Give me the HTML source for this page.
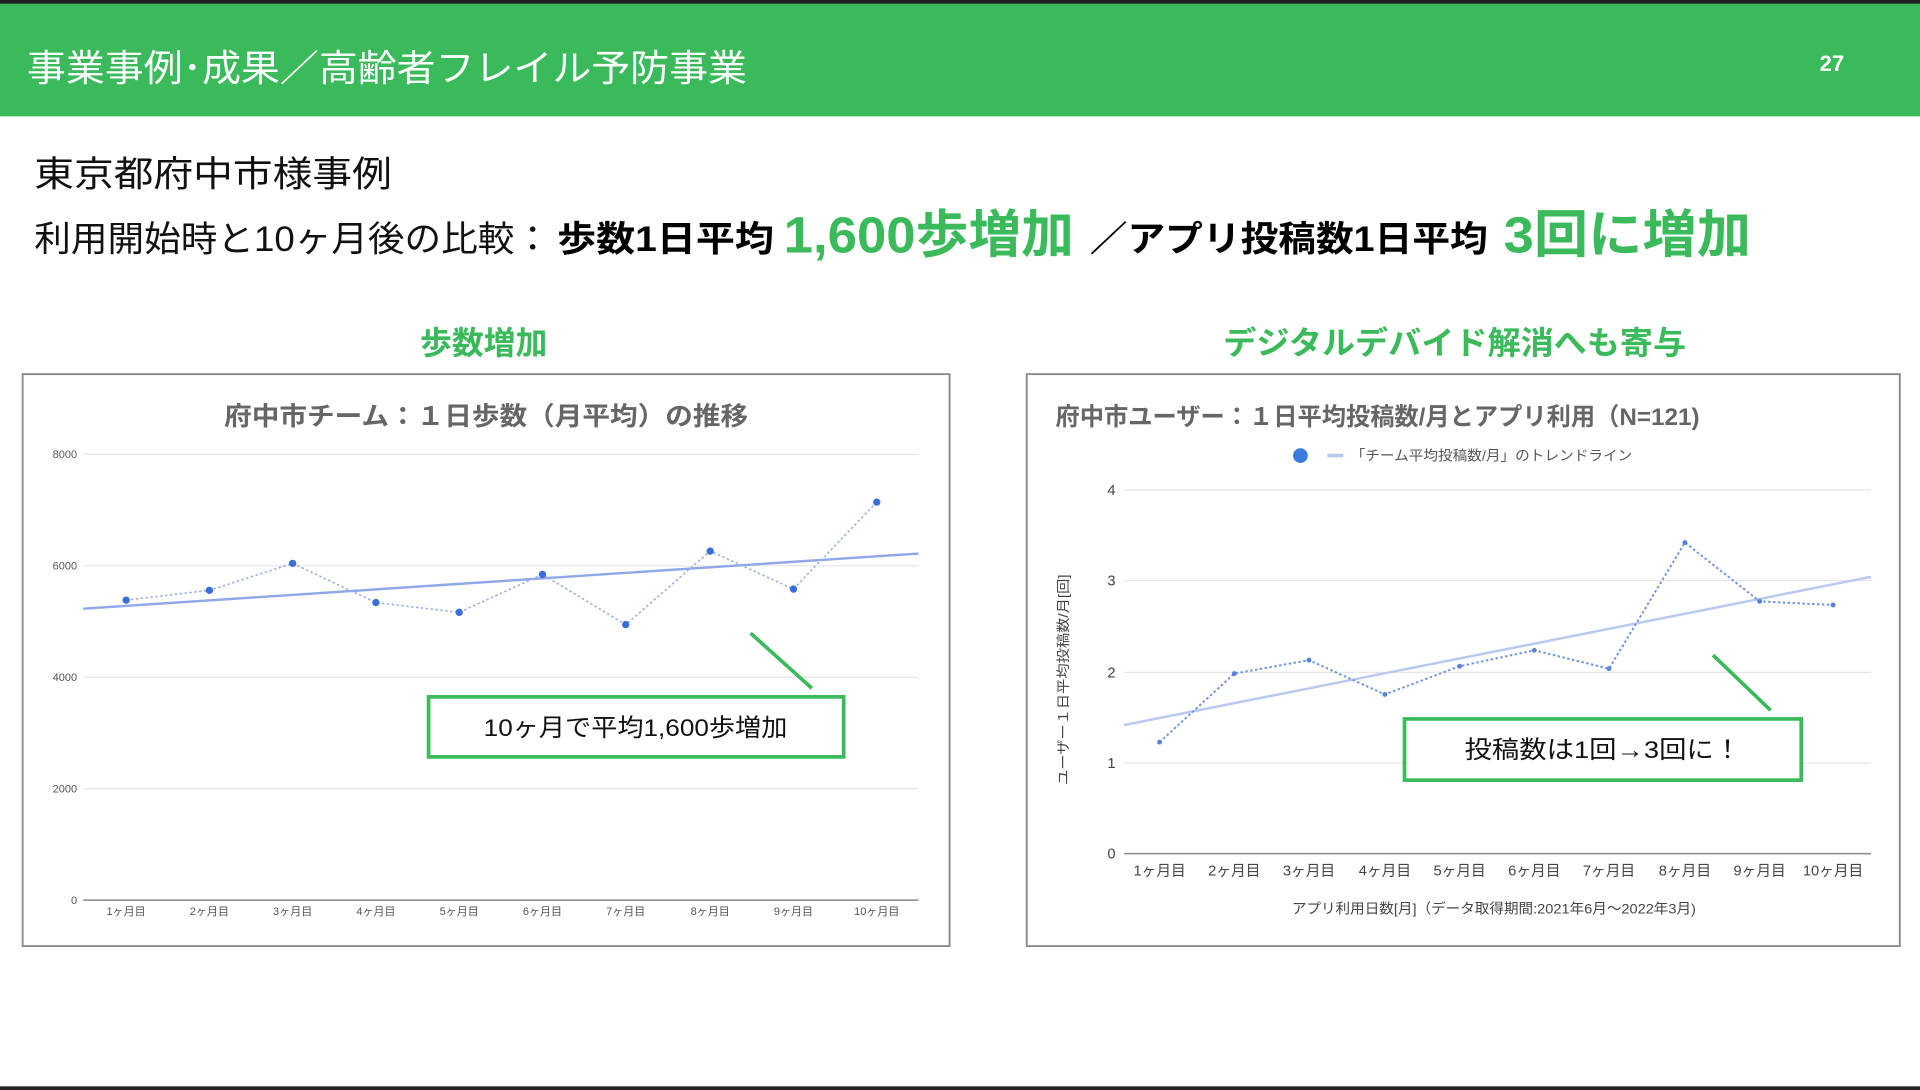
<!DOCTYPE html>
<html><head><meta charset="utf-8"><style>
html,body{margin:0;padding:0;background:#fff;}
svg{display:block;}
text{font-family:"Liberation Sans","Noto Sans CJK JP",sans-serif;}
</style></head><body>
<svg width="1920" height="1090" viewBox="0 0 1568 890" preserveAspectRatio="none" xmlns="http://www.w3.org/2000/svg">
<rect x="0" y="0" width="1568" height="890" fill="#fff"/>
<rect x="0" y="0" width="1568" height="95" fill="#3aba5a"/>
<rect x="0" y="0" width="1568" height="3" fill="#222"/>
<rect x="0" y="887" width="1568" height="3" fill="#222"/>
<text x="22" y="66" font-size="30" fill="#fff" textLength="588" lengthAdjust="spacingAndGlyphs">事業事例･成果／高齢者フレイル予防事業</text>
<text x="1486" y="58" font-size="18" font-weight="bold" fill="#fff">27</text>

<text x="28" y="152" font-size="29" fill="#111" textLength="292" lengthAdjust="spacingAndGlyphs">東京都府中市様事例</text>
<text x="28" y="205" font-size="29" fill="#111" textLength="422" lengthAdjust="spacingAndGlyphs">利用開始時と10ヶ月後の比較：</text>
<text x="455" y="205" font-size="29" font-weight="bold" fill="#000" textLength="177" lengthAdjust="spacingAndGlyphs">歩数1日平均</text>
<text x="640" y="206" font-size="42" font-weight="bold" fill="#3aba5a" textLength="237" lengthAdjust="spacingAndGlyphs">1,600歩増加</text>
<text x="890" y="205" font-size="29" font-weight="bold" fill="#000" textLength="325" lengthAdjust="spacingAndGlyphs">／アプリ投稿数1日平均</text>
<text x="1228" y="206" font-size="42" font-weight="bold" fill="#3aba5a" textLength="202" lengthAdjust="spacingAndGlyphs">3回に増加</text>

<text x="395" y="289" font-size="26" font-weight="bold" fill="#3aba5a" text-anchor="middle">歩数増加</text>
<text x="1188" y="289" font-size="26" font-weight="bold" fill="#3aba5a" text-anchor="middle" textLength="378" lengthAdjust="spacingAndGlyphs">デジタルデバイド解消へも寄与</text>

<!-- Left chart -->
<rect x="18.5" y="305.5" width="757" height="467" fill="#fff" stroke="#888" stroke-width="1.5"/>
<text x="397" y="347" font-size="21" font-weight="bold" fill="#666" text-anchor="middle" textLength="428" lengthAdjust="spacingAndGlyphs">府中市チーム：１日歩数（月平均）の推移</text>
<g stroke="#e6e6e6" stroke-width="1">
<line x1="68" y1="371" x2="750" y2="371"/><line x1="68" y1="462" x2="750" y2="462"/>
<line x1="68" y1="553" x2="750" y2="553"/><line x1="68" y1="644" x2="750" y2="644"/>
</g>
<line x1="68" y1="735" x2="750" y2="735" stroke="#888" stroke-width="1.2"/>
<g font-size="9" fill="#555" text-anchor="end">
<text x="63" y="374">8000</text><text x="63" y="465">6000</text><text x="63" y="556">4000</text><text x="63" y="647">2000</text><text x="63" y="738">0</text>
</g>
<g font-size="9" fill="#555" text-anchor="middle">
<text x="103" y="747">1ヶ月目</text><text x="171" y="747">2ヶ月目</text><text x="239" y="747">3ヶ月目</text><text x="307" y="747">4ヶ月目</text><text x="375" y="747">5ヶ月目</text><text x="443" y="747">6ヶ月目</text><text x="511" y="747">7ヶ月目</text><text x="580" y="747">8ヶ月目</text><text x="648" y="747">9ヶ月目</text><text x="716" y="747">10ヶ月目</text>
</g>
<line x1="68" y1="497" x2="750" y2="452" stroke="#8fa9e8" stroke-width="2"/>
<polyline points="103,490 171,482 239,460 307,492 375,500 443,469 511,510 580,450 648,481 716,410" fill="none" stroke="#9bb0e0" stroke-width="1.3" stroke-dasharray="2,2"/>
<g fill="#3a6fd8">
<circle cx="103" cy="490" r="3"/><circle cx="171" cy="482" r="3"/><circle cx="239" cy="460" r="3"/><circle cx="307" cy="492" r="3"/><circle cx="375" cy="500" r="3"/><circle cx="443" cy="469" r="3"/><circle cx="511" cy="510" r="3"/><circle cx="580" cy="450" r="3"/><circle cx="648" cy="481" r="3"/><circle cx="716" cy="410" r="3"/>
</g>
<line x1="613" y1="517" x2="663" y2="562" stroke="#3aba5a" stroke-width="3"/>
<rect x="350" y="569" width="339" height="49" fill="#fff" stroke="#3aba5a" stroke-width="3"/>
<text x="519" y="601" font-size="20" fill="#111" text-anchor="middle" textLength="248" lengthAdjust="spacingAndGlyphs">10ヶ月で平均1,600歩増加</text>

<!-- Right chart -->
<rect x="838.5" y="305.5" width="713" height="467" fill="#fff" stroke="#888" stroke-width="1.5"/>
<text x="862" y="347" font-size="20" font-weight="bold" fill="#666" textLength="526" lengthAdjust="spacingAndGlyphs">府中市ユーザー：１日平均投稿数/月とアプリ利用（N=121)</text>
<circle cx="1062" cy="372" r="6" fill="#3a7be0"/>
<line x1="1084" y1="372" x2="1097" y2="372" stroke="#b8c8ee" stroke-width="3"/>
<text x="1103" y="376" font-size="11.5" fill="#555" textLength="230" lengthAdjust="spacingAndGlyphs">「チーム平均投稿数/月」のトレンドライン</text>
<g stroke="#e6e6e6" stroke-width="1">
<line x1="918" y1="400" x2="1528" y2="400"/><line x1="918" y1="474" x2="1528" y2="474"/>
<line x1="918" y1="549" x2="1528" y2="549"/><line x1="918" y1="623" x2="1528" y2="623"/>
</g>
<line x1="918" y1="697" x2="1528" y2="697" stroke="#888" stroke-width="1.2"/>
<g font-size="12" fill="#444" text-anchor="end">
<text x="911" y="404">4</text><text x="911" y="478">3</text><text x="911" y="553">2</text><text x="911" y="627">1</text><text x="911" y="701">0</text>
</g>
<g font-size="12" fill="#444" text-anchor="middle">
<text x="947" y="715">1ヶ月目</text><text x="1008" y="715">2ヶ月目</text><text x="1069" y="715">3ヶ月目</text><text x="1131" y="715">4ヶ月目</text><text x="1192" y="715">5ヶ月目</text><text x="1253" y="715">6ヶ月目</text><text x="1314" y="715">7ヶ月目</text><text x="1376" y="715">8ヶ月目</text><text x="1437" y="715">9ヶ月目</text><text x="1497" y="715">10ヶ月目</text>
</g>
<text x="1220" y="746" font-size="11.5" fill="#444" text-anchor="middle" textLength="330" lengthAdjust="spacingAndGlyphs">アプリ利用日数[月]（データ取得期間:2021年6月～2022年3月)</text>
<text transform="translate(872,555) rotate(-90)" font-size="11" fill="#444" text-anchor="middle" textLength="172" lengthAdjust="spacingAndGlyphs">ユーザー１日平均投稿数/月[回]</text>
<line x1="918" y1="592" x2="1528" y2="471" stroke="#b8c8ee" stroke-width="2"/>
<polyline points="947,606 1008,550 1069,539 1131,567 1192,544 1253,531 1314,546 1376,443 1437,491 1497,494" fill="none" stroke="#6f92dd" stroke-width="1.6" stroke-dasharray="2,2"/>
<g fill="#5a82da">
<circle cx="947" cy="606" r="2"/><circle cx="1008" cy="550" r="2"/><circle cx="1069" cy="539" r="2"/><circle cx="1131" cy="567" r="2"/><circle cx="1192" cy="544" r="2"/><circle cx="1253" cy="531" r="2"/><circle cx="1314" cy="546" r="2"/><circle cx="1376" cy="443" r="2"/><circle cx="1437" cy="491" r="2"/><circle cx="1497" cy="494" r="2"/>
</g>
<line x1="1399" y1="535" x2="1446" y2="580" stroke="#3aba5a" stroke-width="3"/>
<rect x="1147" y="587" width="324" height="50" fill="#fff" stroke="#3aba5a" stroke-width="3"/>
<text x="1309" y="619" font-size="20" fill="#111" text-anchor="middle" textLength="226" lengthAdjust="spacingAndGlyphs">投稿数は1回→3回に！</text>
</svg>
</body></html>
